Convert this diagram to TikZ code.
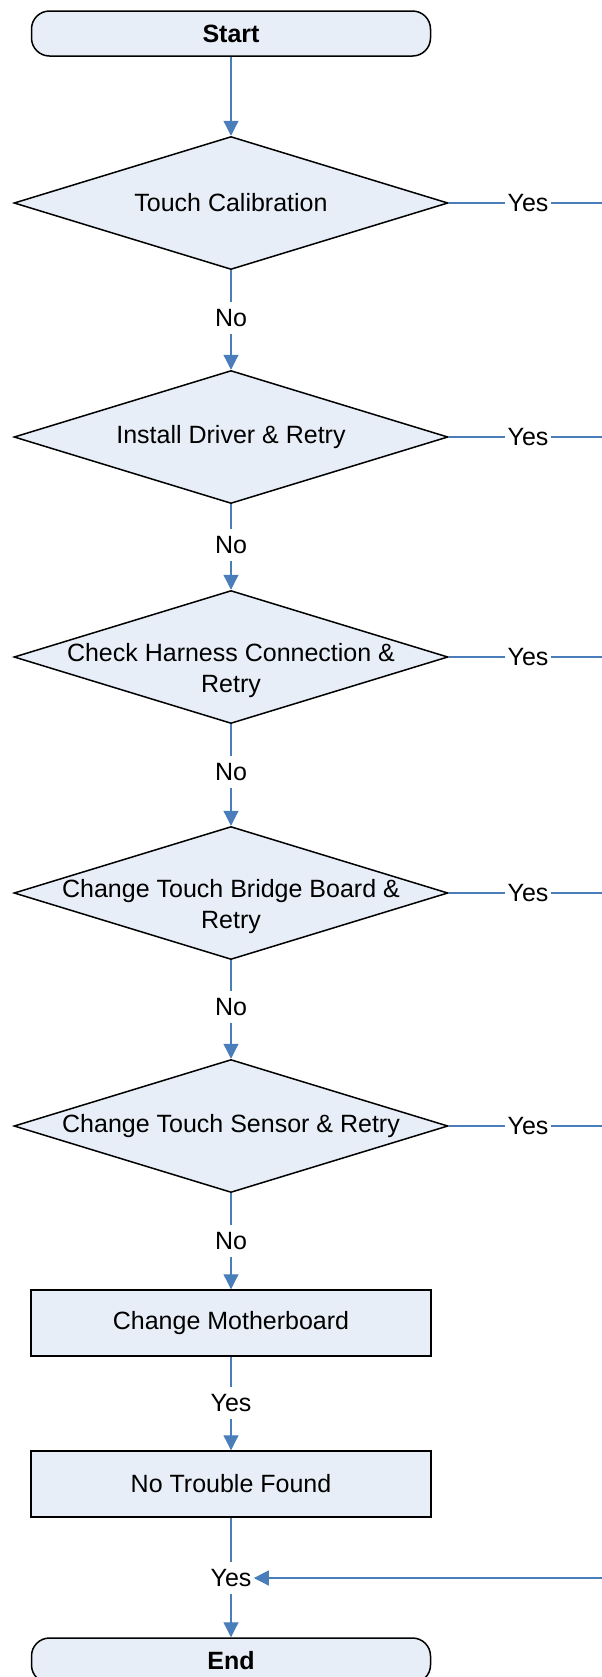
\documentclass[tikz,border=0pt]{standalone}
\usepackage{fontspec}
\setmainfont{Liberation Sans}
\usetikzlibrary{arrows.meta,shapes.geometric}
\definecolor{flowblue}{RGB}{74,126,187}
\definecolor{boxfill}{RGB}{232,238,247}

\begin{document}
\begin{tikzpicture}[
  x=0.5pt, y=-0.5pt,
  every node/.style={font=\fontsize{12.5}{15.5}\selectfont},
  term/.style={draw,rectangle,rounded corners=9pt,line width=0.75pt,fill=boxfill,minimum width=199.5pt,minimum height=22.5pt,inner sep=0pt,font=\fontsize{12.5}{15.5}\selectfont\bfseries},
  decision/.style={draw,diamond,line width=0.75pt,fill=boxfill,minimum width=217pt,minimum height=66.5pt,inner sep=0pt},
  dlabel/.style={align=center,inner sep=0pt},
  process/.style={draw,rectangle,line width=0.75pt,fill=boxfill,minimum width=200pt,minimum height=33pt,inner sep=0pt},
  answer/.style={inner sep=3.5pt},
  side/.style={inner xsep=1pt,inner ysep=3.5pt},
  link/.style={draw=flowblue,line width=0.6pt},
  arr/.style={link,-{Triangle[length=7.5pt,width=7.5pt]}}
]
  \useasboundingbox (0,0) rectangle (601,1677);

  % terminals
  \node[term] (start) at (231,33.5) {Start};
  \node[term] (fin) at (231,1660.5) {End};

  % decisions
  \node[decision] (d1) at (231,203) {};
  \node[decision] (d2) at (231,437) {};
  \node[decision] (d3) at (231,657) {};
  \node[decision] (d4) at (231,893) {};
  \node[decision] (d5) at (231,1126) {};

  % decision texts
  \node[dlabel] (t1) at (231,203) {Touch Calibration};
  \node[dlabel] (t2) at (231,437) {Install Driver \& Retry};
  \node[dlabel] (t3) at (231,671) {Check Harness Connection \&\\Retry};
  \node[dlabel] (t4) at (231,907) {Change Touch Bridge Board \&\\Retry};
  \node[dlabel] (t5) at (231,1126) {Change Touch Sensor \& Retry};

  % actions
  \node[process] (b1) at (231,1323) {Change Motherboard};
  \node[process] (b2) at (231,1484) {No Trouble Found};

  % answers on the main line
  \node[answer] (no1) at (231,318) {No};
  \node[answer] (no2) at (231,545) {No};
  \node[answer] (no3) at (231,772) {No};
  \node[answer] (no4) at (231,1007) {No};
  \node[answer] (no5) at (231,1241) {No};
  \node[answer] (yes1) at (231,1403) {Yes};
  \node[side] (yes2) at (231,1578) {Yes};

  % answers on the right
  \node[side] (ry1) at (528,203) {Yes};
  \node[side] (ry2) at (528,437) {Yes};
  \node[side] (ry3) at (528,657) {Yes};
  \node[side] (ry4) at (528,893) {Yes};
  \node[side] (ry5) at (528,1126) {Yes};

  % loose ends beyond the right edge
  \coordinate (e1) at (620,203);
  \coordinate (e2) at (620,437);
  \coordinate (e3) at (620,657);
  \coordinate (e4) at (620,893);
  \coordinate (e5) at (620,1126);
  \coordinate (e6) at (620,1578);

  % main line
  \draw[arr] (start) -- (d1);
  \draw[link] (d1) -- (no1);
  \draw[arr] (no1) -- (d2);
  \draw[link] (d2) -- (no2);
  \draw[arr] (no2) -- (d3);
  \draw[link] (d3) -- (no3);
  \draw[arr] (no3) -- (d4);
  \draw[link] (d4) -- (no4);
  \draw[arr] (no4) -- (d5);
  \draw[link] (d5) -- (no5);
  \draw[arr] (no5) -- (b1);
  \draw[link] (b1) -- (yes1);
  \draw[arr] (yes1) -- (b2);
  \draw[link] (b2) -- (yes2);
  \draw[arr] (yes2) -- (fin);

  % yes branches
  \draw[link] (d1.east) -- (ry1) -- (e1);
  \draw[link] (d2.east) -- (ry2) -- (e2);
  \draw[link] (d3.east) -- (ry3) -- (e3);
  \draw[link] (d4.east) -- (ry4) -- (e4);
  \draw[link] (d5.east) -- (ry5) -- (e5);
  \draw[arr] (e6) -- (yes2);

\end{tikzpicture}
\end{document}
